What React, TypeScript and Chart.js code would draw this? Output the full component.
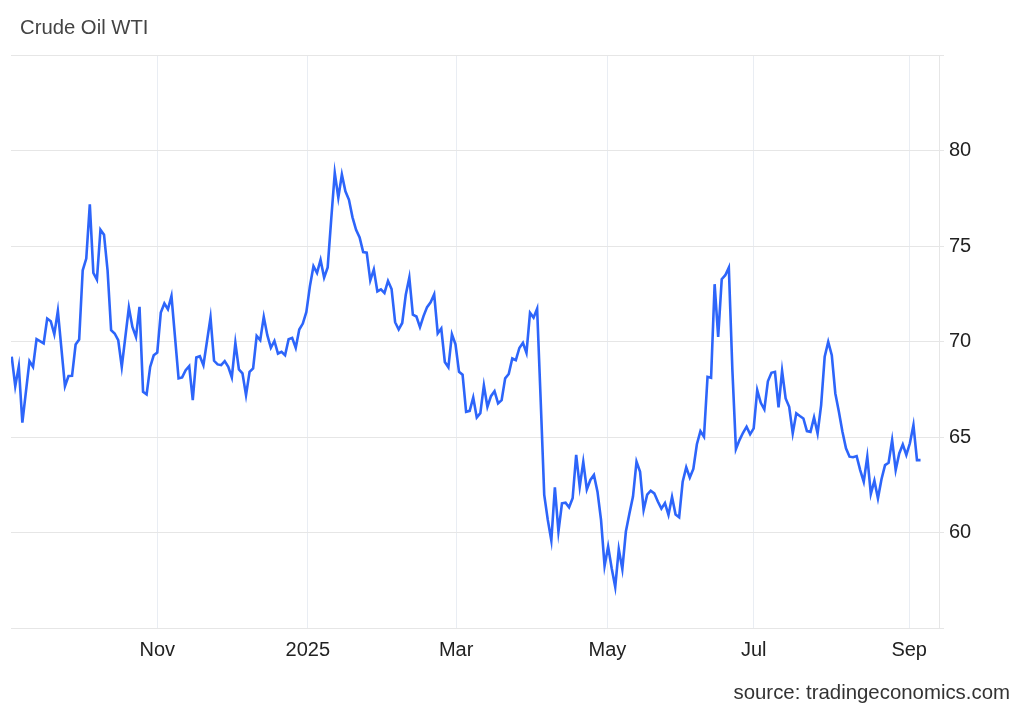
import React, { useEffect, useRef } from 'react';
import { Chart, registerables } from 'chart.js';

Chart.register(...registerables);

// Daily WTI closes (trading-day order); null = day not read (line spans it)
const prices: (number | null)[] = [
  69.2, 67.66, 68.7, 65.75, null, 68.97, 68.67, 70.12, null, 69.9,
  71.2, 71.06, 70.38, 71.6, null, 67.66, 68.19, 68.2, 69.84, 70.1,
  73.73, 74.34, 77.18, 73.59, 73.24, 75.85, 75.59, 73.73, 70.59, 70.42,
  70.07, 68.67, null, 71.78, 70.76, 70.24, 71.81, 67.37, 67.23, 68.67,
  69.28, 69.42, 71.52, 71.99, 71.69, 72.38, null, 68.07, 68.12, 68.5,
  68.71, 66.93, 69.16, 69.23, 68.76, null, 71.25, 68.99, 68.8, 68.76,
  68.97, 68.67, 68.12, 69.93, 68.54, 68.33, 67.19, 68.41, 68.59, 70.29,
  70.07, 71.29, 70.33, 69.67, 70.03, 69.37, 69.46, 69.28, 70.12, 70.19,
  69.67, 70.63, 70.94, 71.55, 72.9, 73.94, 73.59, 74.27, 73.35, 73.88,
  76.4, 78.83, 77.53, 78.74, 77.86, 77.42, 76.5, 75.85, 75.45, 74.68,
  74.65, 73.2, 73.77, 72.62, 72.73, 72.54, 73.17, 72.75, 71.01, 70.63,
  70.97, 72.45, 73.35, 71.4, 71.31, 70.75, 71.33, 71.8, 72.05, 72.47,
  70.42, 70.68, 68.93, 68.65, 70.38, 69.85, 68.41, 68.26, 66.32, 66.37,
  67.07, 66.02, 66.25, 67.7, 66.58, 67.14, 67.4, 66.76, 66.93, 68.07,
  68.3, 69.11, 69.02, 69.66, 69.93, 69.4, 71.5, 71.25, 71.72, 66.93,
  61.97, 60.66, 59.58, 62.37, 60.05, 61.53, 61.56, 61.32, 61.79, 64.06,
  62.4, 63.7, 62.26, 62.75, 63.01, 62.14, 60.66, 58.25, 59.26, 58.13,
  57.15, 59.13, 58.08, 60.05, 61.0, 61.88, 63.71, 63.18, 61.18, 61.98,
  62.19, 62.05, 61.62, 61.25, 61.54, 60.92, 61.86, 60.94, 60.8, 62.66,
  63.41, 62.88, 63.33, 64.62, 65.3, 65.01, 68.15, 68.1, 73.0, 70.24,
  73.26, 73.47, 73.87, 68.5, 64.37, 64.84, 65.22, 65.54, 65.14, 65.45,
  67.45, 66.79, 66.45, 67.92, 68.36, 68.41, 66.55, 68.46, 67.02, 66.58,
  65.19, 66.24, 66.1, 65.97, 65.31, 65.27, 66.02, 65.19, 66.67, 69.2,
  69.98, 69.28, 67.28, 66.32, 65.27, 64.41, 63.97, 63.94, 64.0, 63.27,
  62.66, 63.97, 62.02, 62.71, 61.79, 62.79, 63.53, 63.65, 64.84, 63.27,
  64.14, 64.61, 64.06, 64.67, 65.62, 63.79, 63.79,
];

// Month boundaries, expressed in the trading-day index of the series above
const monthTickIndex = [41, 83.4, 125.2, 167.8, 209, 252.8];
const monthTickLabels = ['Nov', '2025', 'Mar', 'May', 'Jul', 'Sep'];

const yMin = 55;
const yMax = 85;
const yStep = 5;
const yHiddenLabels = [55, 85];

const FONT = "'Liberation Sans', Arial, Helvetica, sans-serif";

export default function App() {
  const ref = useRef<HTMLCanvasElement | null>(null);

  useEffect(() => {
    if (!ref.current) return;
    const labels = prices.map((_, i) => i);
    const chart = new Chart(ref.current, {
      type: 'line',
      data: {
        labels,
        datasets: [
          {
            data: prices,
            borderColor: '#2d65fa',
            borderWidth: 2.6,
            pointRadius: 0,
            tension: 0,
            spanGaps: true,
            fill: false,
          },
        ],
      },
      options: {
        animation: false,
        responsive: false,
        maintainAspectRatio: false,
        layout: { padding: { left: 11, top: 55, right: 0, bottom: 0 } },
        plugins: { legend: { display: false }, tooltip: { enabled: false }, title: { display: false } },
        scales: {
          x: {
            type: 'linear',
            min: -0.2,
            max: 261.2,
            afterBuildTicks: (s: any) => {
              s.ticks = monthTickIndex.map((v) => ({ value: v }));
            },
            afterFit: (s: any) => {
              s.height = 82;
            },
            grid: { color: '#e9edf3', drawTicks: false, lineWidth: 1 },
            border: { display: false },
            ticks: {
              autoSkip: false,
              maxRotation: 0,
              padding: 10,
              color: '#222',
              font: { family: FONT, size: 20 },
              callback: (_v: any, i: number) => monthTickLabels[i],
            },
          },
          y: {
            position: 'right',
            min: yMin,
            max: yMax,
            afterFit: (s: any) => {
              s.width = 85;
            },
            grid: { color: '#e6e6e6', tickLength: 5, lineWidth: 1 },
            border: { display: true, color: '#e6e6e6' },
            ticks: {
              stepSize: yStep,
              padding: 5,
              color: '#222',
              font: { family: FONT, size: 20 },
              callback: (v: any) => (yHiddenLabels.includes(Number(v)) ? '' : String(v)),
            },
          },
        },
      },
    });
    return () => chart.destroy();
  }, []);

  return (
    <div style={{ position: 'fixed', left: 0, top: 0, width: 1024, height: 710, background: '#fff' }}>
      <canvas ref={ref} width={1024} height={710} style={{ display: 'block', width: 1024, height: 710 }} />
      <div
        style={{
          position: 'absolute',
          left: 20,
          top: 15,
          fontFamily: FONT,
          fontSize: 20.3,
          color: '#444',
          lineHeight: '24px',
          whiteSpace: 'nowrap',
        }}
      >
        Crude Oil WTI
      </div>
      <div
        style={{
          position: 'absolute',
          right: 14,
          top: 680,
          fontFamily: FONT,
          fontSize: 20.4,
          color: '#333',
          lineHeight: '24px',
          whiteSpace: 'nowrap',
        }}
      >
        source: tradingeconomics.com
      </div>
    </div>
  );
}
